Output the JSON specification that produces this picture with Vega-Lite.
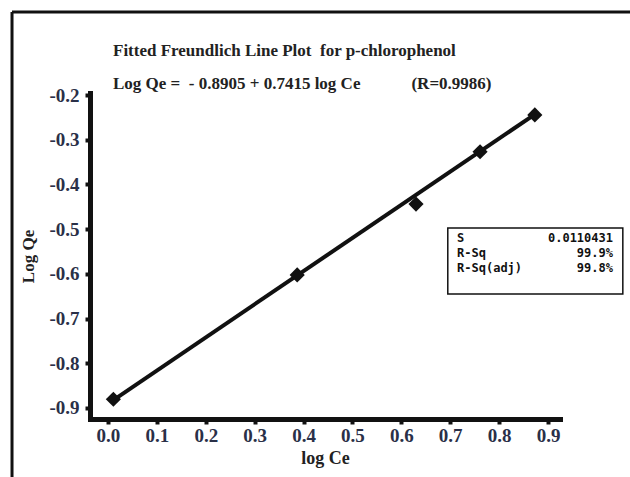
{
  "$schema": "https://vega.github.io/schema/vega-lite/v6.json",
  "width": 470,
  "height": 326,
  "autosize": {"type": "none"},
  "padding": {"left": 90, "top": 93, "right": 70, "bottom": 58},
  "background": "white",
  "config": {
    "view": {"stroke": null},
    "locale": {"number": {"decimal": ".", "thousands": ",", "grouping": [3], "currency": ["$", ""], "minus": "-"}}
  },
  "title": {
    "text": "Fitted Freundlich Line Plot\u00a0\u00a0for p-chlorophenol",
    "subtitle": "Log Qe =\u00a0\u00a0- 0.8905 + 0.7415 log Ce\u00a0\u00a0\u00a0\u00a0\u00a0\u00a0\u00a0\u00a0\u00a0\u00a0\u00a0\u00a0(R=0.9986)",
    "anchor": "start",
    "frame": "group",
    "dx": 23,
    "dy": 87,
    "offset": 4,
    "font": "Liberation Serif",
    "fontSize": 17,
    "fontWeight": "bold",
    "color": "#222222",
    "subtitleFont": "Liberation Serif",
    "subtitleFontSize": 17,
    "subtitleFontWeight": "bold",
    "subtitleColor": "#222222",
    "subtitlePadding": 16
  },
  "datasets": {
    "obs": [
      {"logCe": 0.011, "logQe": -0.8805},
      {"logCe": 0.387, "logQe": -0.6025},
      {"logCe": 0.630, "logQe": -0.444},
      {"logCe": 0.761, "logQe": -0.327},
      {"logCe": 0.873, "logQe": -0.2445}
    ],
    "fit": [
      {"logCe": 0.011, "logQe": -0.8823},
      {"logCe": 0.873, "logQe": -0.2432}
    ],
    "one": [{}]
  },
  "layer": [
    {
      "data": {"name": "one"},
      "mark": {"type": "rule", "color": "#111111", "strokeWidth": 3},
      "encoding": {
        "x": {"datum": -0.1963, "type": "quantitative"},
        "y": {"datum": -0.0143, "type": "quantitative"},
        "y2": {"datum": -1.09}
      }
    },
    {
      "data": {"name": "one"},
      "mark": {"type": "rule", "color": "#111111", "strokeWidth": 3},
      "encoding": {
        "x": {"datum": -0.1963, "type": "quantitative"},
        "x2": {"datum": 1.1},
        "y": {"datum": -0.0143, "type": "quantitative"}
      }
    },
    {
      "data": {"name": "fit"},
      "mark": {"type": "line", "color": "#111111", "strokeWidth": 4},
      "encoding": {
        "x": {"field": "logCe", "type": "quantitative"},
        "y": {"field": "logQe", "type": "quantitative"}
      }
    },
    {
      "data": {"name": "obs"},
      "mark": {"type": "point", "shape": "diamond", "filled": true, "color": "#111111", "opacity": 1, "size": 230},
      "encoding": {
        "x": {
          "field": "logCe",
          "type": "quantitative",
          "scale": {"domain": [-0.0368, 0.9245], "nice": false, "zero": false},
          "axis": {
            "title": "log Ce",
            "values": [0, 0.1, 0.2, 0.3, 0.4, 0.5, 0.6, 0.7, 0.8, 0.9],
            "format": ".1f",
            "grid": false,
            "domainColor": "#111111",
            "domainWidth": 5,
            "domainCap": "square",
            "tickColor": "#111111",
            "tickWidth": 4,
            "tickSize": 5,
            "labelFont": "Liberation Serif",
            "labelFontWeight": "bold",
            "labelFontSize": 19,
            "labelColor": "#2a3048",
            "labelPadding": 2,
            "titleFont": "Liberation Serif",
            "titleFontWeight": "bold",
            "titleFontSize": 18,
            "titleColor": "#222222",
            "titlePadding": 4
          }
        },
        "y": {
          "field": "logQe",
          "type": "quantitative",
          "scale": {"domain": [-0.9247, -0.1955], "nice": false, "zero": false},
          "axis": {
            "title": "Log Qe",
            "values": [-0.2, -0.3, -0.4, -0.5, -0.6, -0.7, -0.8, -0.9],
            "format": ".1f",
            "grid": false,
            "domainColor": "#111111",
            "domainWidth": 5,
            "domainCap": "square",
            "tickColor": "#111111",
            "tickWidth": 4,
            "tickSize": 5,
            "labelFont": "Liberation Serif",
            "labelFontWeight": "bold",
            "labelFontSize": 19,
            "labelColor": "#2a3048",
            "labelPadding": 6,
            "titleFont": "Liberation Serif",
            "titleFontWeight": "bold",
            "titleFontSize": 17,
            "titleColor": "#222222",
            "titlePadding": 11
          }
        }
      }
    },
    {
      "data": {"name": "one"},
      "mark": {"type": "rect", "fill": "white", "stroke": "#111111", "strokeWidth": 1.5},
      "encoding": {
        "x": {"datum": 0.695, "type": "quantitative"},
        "x2": {"datum": 1.053},
        "y": {"datum": -0.4975, "type": "quantitative"},
        "y2": {"datum": -0.6452}
      }
    },
    {
      "data": {"name": "one"},
      "mark": {"type": "text", "align": "left", "baseline": "middle", "font": "DejaVu Sans Mono", "fontWeight": "bold", "fontSize": 12, "lineHeight": 15, "color": "#111111"},
      "encoding": {
        "x": {"datum": 0.7139, "type": "quantitative"},
        "y": {"datum": -0.5198, "type": "quantitative"},
        "text": {"value": ["S", "R-Sq", "R-Sq(adj)"]}
      }
    },
    {
      "data": {"name": "one"},
      "mark": {"type": "text", "align": "right", "baseline": "middle", "font": "DejaVu Sans Mono", "fontWeight": "bold", "fontSize": 12, "lineHeight": 15, "color": "#111111"},
      "encoding": {
        "x": {"datum": 1.0329, "type": "quantitative"},
        "y": {"datum": -0.5198, "type": "quantitative"},
        "text": {"value": ["0.0110431", "99.9%", "99.8%"]}
      }
    }
  ]
}
